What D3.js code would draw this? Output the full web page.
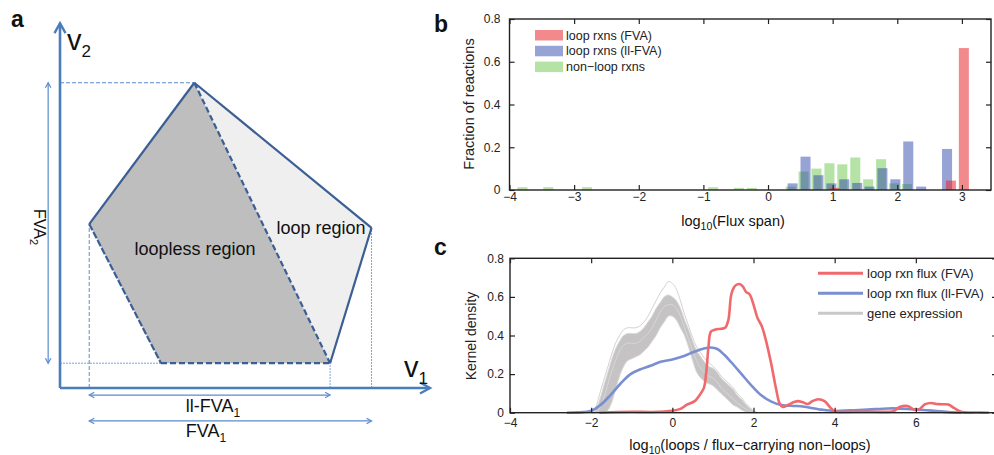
<!DOCTYPE html>
<html>
<head>
<meta charset="utf-8">
<script src="https://cdn.jsdelivr.net/npm/d3@7"></script>
<style>
  body { margin: 0; background: #fff; }
  svg { font-family: "Liberation Sans", Arial, sans-serif; }
</style>
</head>
<body>
<svg id="fig" width="994" height="455"></svg>
<script>
// ---- panel a: flux polytope vertices, (v1, v2) units ----
const polyTop = [3.63, 8.25];
const polyLeft = [0.79, 4.43];
const polyBotLeft = [2.73, 0.67];
const polyBotRight = [7.30, 0.67];
const polyRight = [8.42, 4.33];

// ---- panel b: histogram bars, log10(flux span) vs fraction ----
const bTicksX = [-4, -3, -2, -1, 0, 1, 2, 3];
const bTicksY = [0, 0.2, 0.4, 0.6, 0.8];
const greenX = [-3.8, -3.4, -2.8, -0.85, -0.45, -0.25, 0.35, 0.55, 0.75, 0.95, 1.15, 1.35, 1.55, 1.75, 1.95, 2.15];
const greenY = [0.013, 0.013, 0.013, 0.013, 0.01, 0.01, 0.016, 0.086, 0.1, 0.125, 0.12, 0.152, 0.05, 0.144, 0.031, 0.028];
const blueX = [0.38, 0.58, 0.78, 0.98, 1.18, 1.38, 1.57, 1.77, 1.97, 2.17, 2.37, 2.77];
const blueY = [0.031, 0.156, 0.069, 0.031, 0.05, 0.033, 0.016, 0.102, 0.05, 0.227, 0.016, 0.192];
const redX = [1.03, 2.83, 3.03];
const redY = [0.01, 0.044, 0.664];
const bLegend = ["loop rxns (FVA)", "loop rxns (ll-FVA)", "non\u2212loop rxns"];

// ---- panel c: kernel densities ----
const cTicksX = [-4, -2, 0, 2, 4, 6, 8];
const cTicksY = [0, 0.2, 0.4, 0.6, 0.8];
const fvaX = [-1.8, -1.0, -0.5, 0, 0.2, 0.35, 0.55, 0.7, 0.78, 0.84, 0.89, 0.95, 1.05, 1.2, 1.3, 1.38, 1.45, 1.52, 1.6, 1.68, 1.75, 1.82, 1.9, 2.0, 2.1, 2.2, 2.3, 2.43, 2.56, 2.64, 2.72, 2.85, 3.0, 3.1, 3.2, 3.34, 3.45, 3.6, 3.75, 3.9, 4.0, 4.5, 5.0, 5.45, 5.6, 5.8, 5.97, 6.1, 6.22, 6.38, 6.5, 6.63, 6.8, 6.96, 7.14, 7.5, 7.8];
const fvaY = [0, 0.005, 0.004, 0.01, 0.02, 0.04, 0.06, 0.1, 0.13, 0.22, 0.34, 0.42, 0.43, 0.435, 0.44, 0.48, 0.61, 0.65, 0.665, 0.665, 0.65, 0.625, 0.615, 0.56, 0.49, 0.45, 0.38, 0.26, 0.12, 0.05, 0.03, 0.04, 0.055, 0.06, 0.055, 0.045, 0.06, 0.07, 0.06, 0.025, 0.008, 0.005, 0.005, 0.008, 0.03, 0.035, 0.015, 0.02, 0.043, 0.05, 0.045, 0.044, 0.042, 0.022, 0.003, 0.001, 0];
const llX = [-2.6, -2.2, -2.0, -1.77, -1.53, -1.28, -1.03, -0.78, -0.54, -0.29, 0, 0.29, 0.54, 0.78, 0.95, 1.11, 1.28, 1.44, 1.69, 1.94, 2.19, 2.44, 2.68, 3.0, 3.17, 3.67, 4.0, 4.4, 4.82, 5.32, 5.81, 6.31, 6.8, 7.14];
const llY = [0, 0.003, 0.01, 0.04, 0.09, 0.15, 0.2, 0.225, 0.243, 0.264, 0.276, 0.294, 0.316, 0.333, 0.338, 0.33, 0.3, 0.264, 0.204, 0.143, 0.09, 0.057, 0.04, 0.035, 0.033, 0.016, 0.009, 0.012, 0.016, 0.022, 0.02, 0.012, 0.003, 0];
const geneX = [-2.0, -1.9, -1.8, -1.7, -1.6, -1.5, -1.4, -1.3, -1.2, -1.1, -1.0, -0.9, -0.8, -0.7, -0.6, -0.5, -0.4, -0.3, -0.2, -0.1, 0, 0.1, 0.2, 0.3, 0.4, 0.5, 0.6, 0.7, 0.8, 0.9, 1.0, 1.1, 1.2, 1.3, 1.4, 1.5, 1.6, 1.7, 1.8, 1.9, 2.0, 2.1];
const geneOuter = [0, 0.02, 0.09, 0.16, 0.23, 0.30, 0.36, 0.40, 0.43, 0.44, 0.44, 0.44, 0.45, 0.47, 0.50, 0.54, 0.58, 0.62, 0.65, 0.68, 0.67, 0.64, 0.58, 0.51, 0.45, 0.39, 0.34, 0.31, 0.28, 0.26, 0.24, 0.22, 0.19, 0.17, 0.15, 0.13, 0.10, 0.08, 0.05, 0.03, 0.01, 0];
const geneTop = [0, 0.01, 0.06, 0.13, 0.20, 0.27, 0.33, 0.37, 0.40, 0.41, 0.41, 0.41, 0.42, 0.44, 0.47, 0.50, 0.54, 0.57, 0.60, 0.61, 0.60, 0.58, 0.54, 0.48, 0.43, 0.37, 0.32, 0.29, 0.26, 0.24, 0.23, 0.21, 0.18, 0.16, 0.14, 0.12, 0.09, 0.07, 0.045, 0.025, 0.008, 0];
const geneMid = [0, 0, 0.02, 0.07, 0.14, 0.21, 0.27, 0.32, 0.35, 0.36, 0.36, 0.36, 0.37, 0.39, 0.41, 0.44, 0.48, 0.52, 0.55, 0.56, 0.56, 0.54, 0.50, 0.44, 0.38, 0.32, 0.27, 0.23, 0.21, 0.19, 0.18, 0.16, 0.13, 0.11, 0.09, 0.07, 0.05, 0.035, 0.02, 0.01, 0, 0];
const geneLow = [0, 0, 0, 0, 0.01, 0.05, 0.12, 0.19, 0.24, 0.27, 0.28, 0.29, 0.30, 0.32, 0.34, 0.37, 0.40, 0.44, 0.47, 0.50, 0.50, 0.48, 0.44, 0.40, 0.34, 0.27, 0.21, 0.18, 0.16, 0.15, 0.14, 0.12, 0.10, 0.08, 0.06, 0.04, 0.03, 0.015, 0.005, 0, 0, 0];
const cLegend = ["loop rxn flux (FVA)", "loop rxn flux (ll-FVA)", "gene expression"];

const svg = d3.select("#fig");
const font = "'Liberation Sans', Arial, sans-serif";

// ===================== panel a =====================
const xa = d3.scaleLinear().domain([0, 10]).range([60, 430]);
const ya = d3.scaleLinear().domain([0, 10]).range([388, 18]);
const pt = p => [xa(p[0]), ya(p[1])];
const ga = svg.append("g");
const axisBlue = "#4a7ebb", edgeBlue = "#3b5e94", thinBlue = "#5b8bd0";

ga.append("path")
    .attr("d", d3.line()([polyTop, polyRight, polyBotRight].map(pt)) + "Z")
    .attr("fill", "#efefef");
ga.append("path")
    .attr("d", d3.line()([polyTop, polyLeft, polyBotLeft, polyBotRight].map(pt)) + "Z")
    .attr("fill", "#bebebe");

function seg(a, b, color, w, dash) {
    ga.append("line")
        .attr("x1", a[0]).attr("y1", a[1]).attr("x2", b[0]).attr("y2", b[1])
        .attr("stroke", color).attr("stroke-width", w)
        .attr("stroke-dasharray", dash || null);
}

// projection guides
seg(pt([0, polyTop[1]]), pt(polyTop), thinBlue, 1, "4,2");
seg(pt([0, polyBotLeft[1]]), pt(polyBotLeft), thinBlue, 0.8, "2,1");
seg(pt([polyLeft[0], 0]), pt(polyLeft), thinBlue, 1, "4,2");
seg(pt([polyBotRight[0], 0]), pt(polyBotRight), thinBlue, 0.8, "2,1");
seg(pt([polyRight[0], 0]), pt(polyRight), thinBlue, 0.8, "2,1");

// polytope edges
seg(pt(polyTop), pt(polyRight), edgeBlue, 2.2);
seg(pt(polyRight), pt(polyBotRight), edgeBlue, 2.2);
seg(pt(polyTop), pt(polyLeft), edgeBlue, 2.2);
seg(pt(polyLeft), pt(polyBotLeft), edgeBlue, 2.2, "7,2");
seg(pt(polyBotLeft), pt(polyBotRight), edgeBlue, 2.2, "6,3");
seg(pt(polyTop), pt(polyBotRight), edgeBlue, 2.2, "6,3");

// axes with open arrowheads
function arrowHead(tip, dir, size, color, w) {
    const [dx, dy] = dir, px = -dy, py = dx;
    ga.append("path")
        .attr("d", `M${tip[0] - dx * size + px * size * 0.55},${tip[1] - dy * size + py * size * 0.55}L${tip[0]},${tip[1]}L${tip[0] - dx * size - px * size * 0.55},${tip[1] - dy * size - py * size * 0.55}`)
        .attr("fill", "none").attr("stroke", color).attr("stroke-width", w);
}
seg(pt([0, 0]), pt([10, 0]), axisBlue, 2.6);
seg(pt([0, 0]), pt([0, 9.86]), axisBlue, 2.6);
arrowHead(pt([10, 0]), [1, 0], 10, axisBlue, 2.4);
arrowHead(pt([0, 9.86]), [0, -1], 10, axisBlue, 2.4);

function doubleArrow(a, b) {
    seg(a, b, thinBlue, 1.2);
    const len = Math.hypot(b[0] - a[0], b[1] - a[1]);
    const d = [(b[0] - a[0]) / len, (b[1] - a[1]) / len];
    arrowHead(b, d, 5, thinBlue, 1.2);
    arrowHead(a, [-d[0], -d[1]], 5, thinBlue, 1.2);
}
doubleArrow(pt([-0.32, polyTop[1]]), pt([-0.32, polyBotLeft[1]]));
doubleArrow(pt([polyLeft[0], -0.19]), pt([polyBotRight[0], -0.19]));
doubleArrow(pt([polyLeft[0], -0.89]), pt([polyRight[0], -0.89]));

function subText(g, x, y, main, sub, size, subSize, anchor, transform) {
    const t = g.append("text")
        .attr("x", x).attr("y", y)
        .attr("font-size", size).attr("fill", "#111")
        .attr("text-anchor", anchor || "start")
        .attr("transform", transform || null);
    t.append("tspan").text(main);
    t.append("tspan").attr("font-size", subSize).attr("dy", subSize * 0.4).text(sub);
    return t;
}
subText(ga, 67, 50, "v", "2", 29, 17);
subText(ga, 404, 377, "v", "1", 29, 17);
subText(ga, 213, 412, "ll-FVA", "1", 18, 12, "middle");
subText(ga, 206, 437, "FVA", "1", 18, 12, "middle");
subText(ga, 0, 0, "FVA", "2", 16, 11, "middle", "translate(34,227) rotate(90)");
ga.append("text").attr("x", 195).attr("y", 255).attr("text-anchor", "middle")
    .attr("font-size", 18).attr("fill", "#111").text("loopless region");
ga.append("text").attr("x", 321).attr("y", 234).attr("text-anchor", "middle")
    .attr("font-size", 18).attr("fill", "#111").text("loop region");

// panel letters
[["a", 11, 27], ["b", 434, 32], ["c", 434, 255]].forEach(([s, x, y]) => {
    svg.append("text").attr("x", x).attr("y", y).attr("font-size", 23)
        .attr("font-weight", "bold").attr("fill", "#111").text(s);
});

// ===================== shared box axes =====================
function boxAxes(x, y, xTicks, yTicks, padX, padY) {
    const g = svg.append("g");
    const [x0, x1] = x.range(), [y0, y1] = y.range();
    const fmtX = d3.format("d"), fmtY = d3.format(".1~f");
    const style = sel => {
        sel.attr("font-family", font).attr("font-size", 12).attr("color", "#222");
        sel.select(".domain").remove();
        sel.selectAll(".tick line").attr("stroke-width", 1.2);
    };
    g.append("g").attr("transform", `translate(0,${y0})`)
        .call(d3.axisBottom(x).tickValues(xTicks).tickSize(-5).tickPadding(padX).tickFormat(fmtX)).call(style);
    g.append("g").attr("transform", `translate(0,${y1})`)
        .call(d3.axisTop(x).tickValues(xTicks).tickSize(-5).tickFormat("")).call(style);
    g.append("g").attr("transform", `translate(${x0},0)`)
        .call(d3.axisLeft(y).tickValues(yTicks).tickSize(-5).tickPadding(padY).tickFormat(fmtY)).call(style);
    g.append("g").attr("transform", `translate(${x1},0)`)
        .call(d3.axisRight(y).tickValues(yTicks).tickSize(-5).tickFormat("")).call(style);
    g.append("rect").attr("x", x0).attr("y", y1).attr("width", x1 - x0).attr("height", y0 - y1)
        .attr("fill", "none").attr("stroke", "#222").attr("stroke-width", 1.4);
    return g;
}

// ===================== panel b =====================
const xb = d3.scaleLinear().domain([-4, 3.45]).range([509.5, 991]);
const yb = d3.scaleLinear().domain([0, 0.8]).range([190, 19]);
const barW = 0.155;
const bColors = ["rgb(232,40,45)", "rgb(45,72,170)", "rgb(105,200,75)"];
const bAlpha = [0.55, 0.5, 0.5];

function bars(xs, ys, color, alpha) {
    svg.append("g").selectAll("rect")
        .data(d3.zip(xs, ys))
        .enter()
        .append("rect")
        .attr("x", d => xb(d[0] - barW / 2))
        .attr("y", d => yb(d[1]))
        .attr("width", xb(barW) - xb(0))
        .attr("height", d => yb(0) - yb(d[1]))
        .attr("fill", color)
        .attr("fill-opacity", alpha);
}
bars(greenX, greenY, bColors[2], bAlpha[2]);
bars(blueX, blueY, bColors[1], bAlpha[1]);
bars(redX, redY, bColors[0], bAlpha[0]);

boxAxes(xb, yb, bTicksX, bTicksY, 2, 9);

const legB = svg.append("g");
bLegend.forEach((label, i) => {
    const yy = 30 + i * 15.8;
    legB.append("rect").attr("x", 535).attr("y", yy).attr("width", 28).attr("height", 10.5)
        .attr("fill", bColors[i]).attr("fill-opacity", bAlpha[i]);
    legB.append("text").attr("x", 566).attr("y", yy + 9.5).attr("font-size", 12.5)
        .attr("fill", "#222").text(label);
});

svg.append("text")
    .attr("transform", `translate(474,104) rotate(-90)`)
    .attr("text-anchor", "middle").attr("font-size", 14.5).attr("fill", "#222")
    .text("Fraction of reactions");
subText(svg, 733, 226, "log", "10", 14.5, 10.5, "middle").append("tspan")
    .attr("font-size", 14.5).attr("dy", -4.2).text("(Flux span)");

// ===================== panel c =====================
const xc = d3.scaleLinear().domain([-4, 8]).range([510, 997]);
const yc = d3.scaleLinear().domain([0, 0.8]).range([412.7, 258.3]);
const lineC = d3.line().x(d => xc(d[0])).y(d => yc(d[1])).curve(d3.curveCatmullRom);
const cColors = ["#f0696c", "#7a8ed2", "#c8c8c8"];

svg.append("path")
    .attr("d", d3.area().x(d => xc(d[0])).y0(d => yc(d[1])).y1(d => yc(d[2]))
        .curve(d3.curveCatmullRom)(d3.zip(geneX, geneLow, geneTop)))
    .attr("fill", "#c5c3c3");
[geneOuter, geneTop, geneMid, geneLow].forEach((ys, i) => {
    svg.append("path")
        .attr("d", lineC(d3.zip(geneX, ys)))
        .attr("fill", "none")
        .attr("stroke", i === 0 ? "#d2d2d2" : "#d8d8d8")
        .attr("stroke-width", 1);
});
svg.append("path").attr("d", lineC(d3.zip(llX, llY)))
    .attr("fill", "none").attr("stroke", cColors[1]).attr("stroke-width", 2.6);
svg.append("path").attr("d", lineC(d3.zip(fvaX, fvaY)))
    .attr("fill", "none").attr("stroke", cColors[0]).attr("stroke-width", 2.6);

boxAxes(xc, yc, cTicksX, cTicksY, 6, 6);

const legC = svg.append("g");
cLegend.forEach((label, i) => {
    const yy = 273.3 + i * 20;
    legC.append("line").attr("x1", 818).attr("x2", 863).attr("y1", yy).attr("y2", yy)
        .attr("stroke", cColors[i]).attr("stroke-width", 3);
    legC.append("text").attr("x", 867).attr("y", yy + 4.5).attr("font-size", 13)
        .attr("fill", "#222").text(label);
});

svg.append("text")
    .attr("transform", `translate(476,336) rotate(-90)`)
    .attr("text-anchor", "middle").attr("font-size", 14).attr("fill", "#222")
    .text("Kernel density");
subText(svg, 750, 450, "log", "10", 14.5, 10.5, "middle").append("tspan")
    .attr("font-size", 14.5).attr("dy", -4.2).text("(loops / flux\u2212carrying non\u2212loops)");
</script>
</body>
</html>
